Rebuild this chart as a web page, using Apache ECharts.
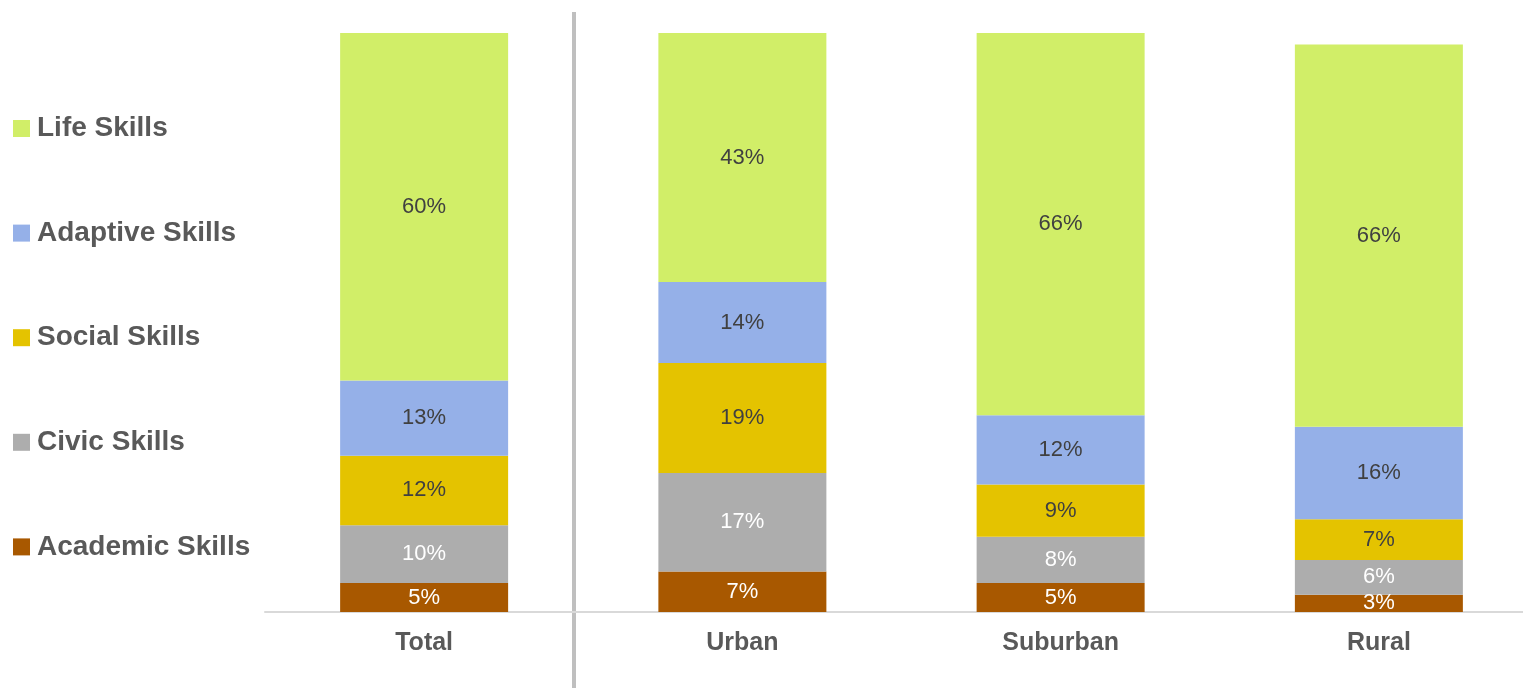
<!DOCTYPE html>
<html>
<head>
<meta charset="utf-8">
<script src="https://cdn.jsdelivr.net/npm/echarts@6/dist/echarts.min.js"></script>
<style>
  html, body { margin: 0; padding: 0; background: #ffffff; overflow: hidden; }
  /* plot area runs past the right edge of the page, as in the original layout */
  #chart { width: 1538px; height: 688px; }
</style>
</head>
<body>
<div id="chart"></div>
<script>
// Share of each skill area, by community type (percent)
const categories = ['Total', 'Urban', 'Suburban', 'Rural'];
const academicSkills = [5, 7, 5, 3];
const civicSkills = [10, 17, 8, 6];
const socialSkills = [12, 19, 9, 7];
const adaptiveSkills = [13, 14, 12, 16];
const lifeSkills = [60, 43, 66, 66];

const FONT = '"Liberation Sans", Arial, sans-serif';

function seg(name, data, color, labelColor) {
  return {
    name: name,
    type: 'bar',
    stack: 'skills',
    data: data,
    barWidth: 168,
    itemStyle: { color: color },
    label: {
      show: true,
      position: 'inside',
      formatter: '{c}%',
      color: labelColor,
      fontFamily: FONT,
      fontSize: 22,
      fontWeight: 'normal'
    },
    emphasis: { disabled: true }
  };
}

const chart = echarts.init(document.getElementById('chart'), null, { renderer: 'canvas' });
chart.setOption({
  backgroundColor: '#ffffff',
  animation: false,
  legend: {
    orient: 'vertical',
    left: 8,
    top: 109.5,
    itemWidth: 17,
    itemHeight: 17,
    itemGap: 76.6,
    icon: 'rect',
    data: ['Life Skills', 'Adaptive Skills', 'Social Skills', 'Civic Skills', 'Academic Skills'],
    textStyle: {
      color: '#595959',
      fontFamily: FONT,
      fontSize: 28,
      fontWeight: 'bold',
      lineHeight: 26,
      padding: [0, 0, 0, 2]
    }
  },
  grid: { left: 265, top: 33, bottom: 76, right: 0, containLabel: false },
  xAxis: {
    type: 'category',
    data: categories,
    axisLine: { show: true, lineStyle: { color: '#d9d9d9', width: 2 } },
    axisTick: { show: false },
    axisLabel: {
      margin: 19,
      color: '#595959',
      fontFamily: FONT,
      fontSize: 25,
      fontWeight: 'bold'
    }
  },
  yAxis: {
    type: 'value',
    min: 0,
    max: 100,
    show: false,
    splitLine: { show: false }
  },
  graphic: [
    {
      type: 'line',
      shape: { x1: 574, y1: 12, x2: 574, y2: 688 },
      style: { stroke: '#bfbfbf', lineWidth: 4 },
      silent: true
    }
  ],
  series: [
    seg('Academic Skills', academicSkills, '#a85800', '#ffffff'),
    seg('Civic Skills', civicSkills, '#adadad', '#ffffff'),
    seg('Social Skills', socialSkills, '#e4c300', '#404040'),
    seg('Adaptive Skills', adaptiveSkills, '#95b0e8', '#404040'),
    seg('Life Skills', lifeSkills, '#d1ee68', '#404040')
  ]
});
</script>
</body>
</html>
